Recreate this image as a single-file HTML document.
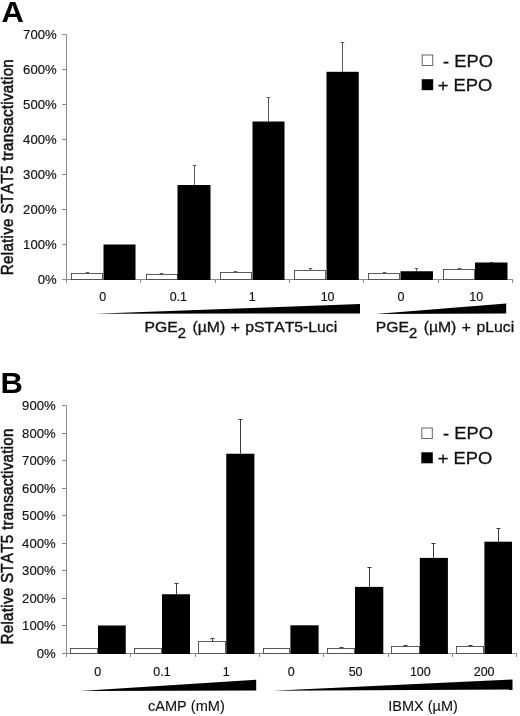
<!DOCTYPE html>
<html><head><meta charset="utf-8"><title>Figure</title>
<style>
html,body{margin:0;padding:0;background:#fff;}
body{width:520px;height:716px;overflow:hidden;}
svg{display:block;font-family:"Liberation Sans",sans-serif;filter:grayscale(1) blur(0.35px);}
text{fill:#111;stroke:#111;stroke-width:0.3px;font-kerning:none;}
.ax{stroke:#8a8a8a;stroke-width:1;fill:none;}
.eb{stroke-width:1;fill:none;}
.wb{fill:#fff;stroke:#404040;stroke-width:0.85;}
.bb{fill:#000;}
.tl{font-size:12.4px;stroke-width:0.15px;}
.xl{font-size:12px;stroke-width:0.15px;}
.lg{font-size:17.3px;}
.yl{font-size:15.2px;stroke-width:0.5px;}
.cp{stroke-width:0.32px;}
.cb{stroke-width:0.12px;}
</style></head><body>
<svg width="520" height="716" viewBox="0 0 520 716">
<rect x="0" y="0" width="520" height="716" fill="#fff"/>

<text transform="translate(1.5 22.3) scale(1.05 1)" font-size="29.5px" font-weight="bold" style="fill:#000;stroke:none">A</text>
<path class="ax" d="M66.5 34.5 V283.0"/>
<path class="ax" d="M62.0 279.5 H512.8"/>
<text class="tl" text-anchor="end" transform="translate(56.7 283.9) scale(1.06 1)">0%</text>
<path class="ax" d="M62.0 244.5 H66.5"/>
<text class="tl" text-anchor="end" transform="translate(56.7 248.9) scale(1.06 1)">100%</text>
<path class="ax" d="M62.0 209.5 H66.5"/>
<text class="tl" text-anchor="end" transform="translate(56.7 213.9) scale(1.06 1)">200%</text>
<path class="ax" d="M62.0 174.5 H66.5"/>
<text class="tl" text-anchor="end" transform="translate(56.7 178.9) scale(1.06 1)">300%</text>
<path class="ax" d="M62.0 139.5 H66.5"/>
<text class="tl" text-anchor="end" transform="translate(56.7 143.9) scale(1.06 1)">400%</text>
<path class="ax" d="M62.0 104.5 H66.5"/>
<text class="tl" text-anchor="end" transform="translate(56.7 108.9) scale(1.06 1)">500%</text>
<path class="ax" d="M62.0 69.5 H66.5"/>
<text class="tl" text-anchor="end" transform="translate(56.7 73.9) scale(1.06 1)">600%</text>
<path class="ax" d="M62.0 34.5 H66.5"/>
<text class="tl" text-anchor="end" transform="translate(56.7 38.9) scale(1.06 1)">700%</text>
<path class="ax" d="M140.5 279.5 V283.0"/>
<path class="ax" d="M215.5 279.5 V283.0"/>
<path class="ax" d="M289.5 279.5 V283.0"/>
<path class="ax" d="M363.5 279.5 V283.0"/>
<path class="ax" d="M438.5 279.5 V283.0"/>
<path class="ax" d="M512.5 279.5 V283.0"/>
<path class="eb" stroke="#585858" d="M87.5 273 V272.0 M85.75 272.5 H89.25"/>
<rect class="wb" x="71.5" y="273.5" width="31.0" height="6.0"/>
<rect class="bb" x="103.5" y="244.5" width="32.0" height="35.5"/>
<path class="eb" stroke="#585858" d="M161.5 274.5 V273.0 M159.75 273.5 H163.25"/>
<rect class="wb" x="146.5" y="274.5" width="31.0" height="5.0"/>
<path class="eb" stroke="#585858" d="M194.5 185 V165.0 M192.75 165.5 H196.25"/>
<rect class="bb" x="177.5" y="185" width="33.0" height="95.0"/>
<path class="eb" stroke="#585858" d="M235.5 272 V271.0 M233.75 271.5 H237.25"/>
<rect class="wb" x="220.5" y="272.5" width="31.0" height="7.0"/>
<path class="eb" stroke="#585858" d="M268.5 121.5 V97.0 M266.75 97.5 H270.25"/>
<rect class="bb" x="252.5" y="121.5" width="32.0" height="158.5"/>
<path class="eb" stroke="#585858" d="M310.5 270 V268.0 M308.75 268.5 H312.25"/>
<rect class="wb" x="294.5" y="270.5" width="31.0" height="9.0"/>
<path class="eb" stroke="#585858" d="M342.5 71.8 V42.0 M340.75 42.5 H344.25"/>
<rect class="bb" x="326.5" y="71.8" width="32.25" height="208.2"/>
<path class="eb" stroke="#585858" d="M384.5 273.25 V272.0 M382.75 272.5 H386.25"/>
<rect class="wb" x="368.5" y="273.5" width="31.0" height="6.0"/>
<path class="eb" stroke="#585858" d="M416.5 271.25 V268.0 M414.75 268.5 H418.25"/>
<rect class="bb" x="400.5" y="271.25" width="32.5" height="8.75"/>
<path class="eb" stroke="#585858" d="M459.5 269.5 V268.0 M457.75 268.5 H461.25"/>
<rect class="wb" x="443.5" y="269.5" width="31.0" height="10.0"/>
<path class="eb" stroke="#585858" d="M491.5 262.5 V262.0 M489.75 262.5 H493.25"/>
<rect class="bb" x="475" y="262.5" width="32.5" height="17.5"/>
<text class="xl" text-anchor="middle" transform="translate(102.8 301.2) scale(1.04 1)">0</text>
<text class="xl" text-anchor="middle" transform="translate(178.3 301.2) scale(1.04 1)">0.1</text>
<text class="xl" text-anchor="middle" transform="translate(252.3 301.2) scale(1.04 1)">1</text>
<text class="xl" text-anchor="middle" transform="translate(327.6 301.2) scale(1.04 1)">10</text>
<text class="xl" text-anchor="middle" transform="translate(401.0 301.2) scale(1.04 1)">0</text>
<text class="xl" text-anchor="middle" transform="translate(476.3 301.2) scale(1.04 1)">10</text>
<path d="M95 313.8 L360 303.9 L360 313.5 Z" fill="#000"/>
<path d="M375.4 314 L506.2 303.6 L506.2 313.6 Z" fill="#000"/>
<text class="cp" font-size="15.3px" transform="translate(144.5 331.7) scale(1.03 1)" style="word-spacing:1.1px">PGE<tspan font-size="14.4px" dy="6.3">2</tspan><tspan dy="-6.3" dx="0.9"> (µM) + pSTAT5-Luci</tspan></text>
<text class="cp" font-size="15.3px" transform="translate(375.7 331.7) scale(1.03 1)" style="word-spacing:1.1px">PGE<tspan font-size="14.4px" dy="6.3">2</tspan><tspan dy="-6.3" dx="0.9"> (µM) + pLuci</tspan></text>
<rect x="422.2" y="55.0" width="10.5" height="10.5" fill="#fff" stroke="#666" stroke-width="1"/>
<rect x="421.7" y="79.2" width="11.5" height="11" fill="#000"/>
<text class="lg" transform="translate(443.1 66.6) scale(1.06 1)">- EPO</text>
<text class="lg" transform="translate(437.7 91.0) scale(1.06 1)">+ EPO</text>
<text class="yl" transform="translate(12.8 275.2) scale(1.05 1) rotate(-90)" textLength="216" lengthAdjust="spacing">Relative STAT5 transactivation</text>
<text transform="translate(0.5 392.5) scale(1.05 1)" font-size="29.5px" font-weight="bold" style="fill:#000;stroke:none">B</text>
<path class="ax" d="M66.5 405.7 V657.0"/>
<path class="ax" d="M62.0 653.5 H517"/>
<text class="tl" text-anchor="end" transform="translate(55.7 657.9) scale(1.06 1)">0%</text>
<path class="ax" d="M62.0 625.5 H66.5"/>
<text class="tl" text-anchor="end" transform="translate(55.7 629.9) scale(1.06 1)">100%</text>
<path class="ax" d="M62.0 598.5 H66.5"/>
<text class="tl" text-anchor="end" transform="translate(55.7 602.9) scale(1.06 1)">200%</text>
<path class="ax" d="M62.0 570.5 H66.5"/>
<text class="tl" text-anchor="end" transform="translate(55.7 574.9) scale(1.06 1)">300%</text>
<path class="ax" d="M62.0 543.5 H66.5"/>
<text class="tl" text-anchor="end" transform="translate(55.7 547.9) scale(1.06 1)">400%</text>
<path class="ax" d="M62.0 515.5 H66.5"/>
<text class="tl" text-anchor="end" transform="translate(55.7 519.9) scale(1.06 1)">500%</text>
<path class="ax" d="M62.0 488.5 H66.5"/>
<text class="tl" text-anchor="end" transform="translate(55.7 492.9) scale(1.06 1)">600%</text>
<path class="ax" d="M62.0 460.5 H66.5"/>
<text class="tl" text-anchor="end" transform="translate(55.7 464.9) scale(1.06 1)">700%</text>
<path class="ax" d="M62.0 433.5 H66.5"/>
<text class="tl" text-anchor="end" transform="translate(55.7 437.9) scale(1.06 1)">800%</text>
<path class="ax" d="M62.0 405.5 H66.5"/>
<text class="tl" text-anchor="end" transform="translate(55.7 409.9) scale(1.06 1)">900%</text>
<path class="ax" d="M130.5 653.5 V657.0"/>
<path class="ax" d="M195.5 653.5 V657.0"/>
<path class="ax" d="M259.5 653.5 V657.0"/>
<path class="ax" d="M323.5 653.5 V657.0"/>
<path class="ax" d="M388.5 653.5 V657.0"/>
<path class="ax" d="M452.5 653.5 V657.0"/>
<path class="ax" d="M516.5 653.5 V657.0"/>
<path class="eb" stroke="#3a3a3a" d="M83.5 648.75 V648.0 M81.5 648.5 H85.5"/>
<rect class="wb" x="70.5" y="648.5" width="27.0" height="5.0"/>
<rect class="bb" x="98" y="625.5" width="27.75" height="28.5"/>
<rect class="wb" x="134.5" y="648.5" width="27.0" height="5.0"/>
<path class="eb" stroke="#3a3a3a" d="M176.5 594.25 V583.0 M174.5 583.5 H178.5"/>
<rect class="bb" x="162" y="594.25" width="28" height="59.75"/>
<path class="eb" stroke="#3a3a3a" d="M212.5 641.25 V638.0 M210.5 638.5 H214.5"/>
<rect class="wb" x="198.5" y="641.5" width="27.0" height="12.0"/>
<path class="eb" stroke="#3a3a3a" d="M240.5 453.75 V419.0 M238.5 419.5 H242.5"/>
<rect class="bb" x="226.25" y="453.75" width="28.15" height="200.25"/>
<path class="eb" stroke="#3a3a3a" d="M276.5 648.9 V648.0 M274.5 648.5 H278.5"/>
<rect class="wb" x="263.5" y="648.5" width="26.0" height="5.0"/>
<rect class="bb" x="290.4" y="625.3" width="28.2" height="28.7"/>
<path class="eb" stroke="#3a3a3a" d="M341.5 648.4 V647.0 M339.5 647.5 H343.5"/>
<rect class="wb" x="327.5" y="648.5" width="27.0" height="5.0"/>
<path class="eb" stroke="#3a3a3a" d="M369.5 586.9 V567.0 M367.5 567.5 H371.5"/>
<rect class="bb" x="355" y="586.9" width="28.3" height="67.1"/>
<path class="eb" stroke="#3a3a3a" d="M405.5 646 V645.0 M403.5 645.5 H407.5"/>
<rect class="wb" x="391.5" y="646.5" width="28.0" height="7.0"/>
<path class="eb" stroke="#3a3a3a" d="M433.5 557.9 V543.0 M431.5 543.5 H435.5"/>
<rect class="bb" x="419.8" y="557.9" width="28.1" height="96.1"/>
<path class="eb" stroke="#3a3a3a" d="M470.5 646.2 V645.0 M468.5 645.5 H472.5"/>
<rect class="wb" x="456.5" y="646.5" width="27.0" height="7.0"/>
<path class="eb" stroke="#3a3a3a" d="M498.5 541.7 V528.0 M496.5 528.5 H500.5"/>
<rect class="bb" x="484.4" y="541.7" width="27.6" height="112.3"/>
<text class="xl" text-anchor="middle" transform="translate(97.8 675.7) scale(1.04 1)">0</text>
<text class="xl" text-anchor="middle" transform="translate(162.0 675.7) scale(1.04 1)">0.1</text>
<text class="xl" text-anchor="middle" transform="translate(226.3 675.7) scale(1.04 1)">1</text>
<text class="xl" text-anchor="middle" transform="translate(291.1 675.7) scale(1.04 1)">0</text>
<text class="xl" text-anchor="middle" transform="translate(355.6 675.7) scale(1.04 1)">50</text>
<text class="xl" text-anchor="middle" transform="translate(420.3 675.7) scale(1.04 1)">100</text>
<text class="xl" text-anchor="middle" transform="translate(484.1 675.7) scale(1.04 1)">200</text>
<path d="M80 691 L256.2 679.8 L256.2 690.5 Z" fill="#000"/>
<path d="M272.3 690.8 L512.5 679.5 L512.5 689.5 Z" fill="#000"/>
<text class="cb" font-size="14px" transform="translate(148 711) scale(1.04 1)">cAMP (mM)</text>
<text class="cb" font-size="14px" transform="translate(388.3 711) scale(1.035 1)">IBMX (µM)</text>
<rect x="421.8" y="428.0" width="10.5" height="10.5" fill="#fff" stroke="#666" stroke-width="1"/>
<rect x="421.3" y="452.3" width="11.5" height="11" fill="#000"/>
<text class="lg" transform="translate(443.1 439.4) scale(1.06 1)">- EPO</text>
<text class="lg" transform="translate(437.7 463.5) scale(1.06 1)">+ EPO</text>
<text class="yl" transform="translate(12.9 644.5) scale(1.05 1) rotate(-90)" textLength="216" lengthAdjust="spacing">Relative STAT5 transactivation</text>
</svg></body></html>
